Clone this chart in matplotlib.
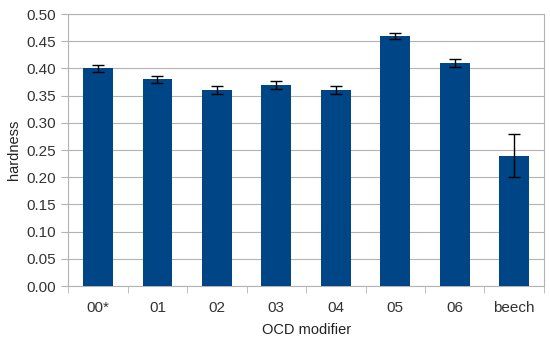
import numpy as np
import matplotlib.pyplot as plt

plt.rcParams['font.family'] = ['Liberation Sans', 'DejaVu Sans']

categories = ['00*', '01', '02', '03', '04', '05', '06', 'beech']
hardness = [0.40, 0.38, 0.36, 0.37, 0.36, 0.46, 0.41, 0.24]
errors = [0.007, 0.007, 0.007, 0.007, 0.007, 0.006, 0.007, 0.04]

fig = plt.figure(figsize=(5.5, 3.43), dpi=100)
ax = fig.add_axes([0.124, 0.166, 0.865, 0.793])

x = np.arange(len(categories))
ax.bar(x, hardness, width=0.5, color='#004586', zorder=3,
       yerr=errors, capsize=4, error_kw=dict(ecolor='black', elinewidth=1, capthick=1))

ax.set_xlim(-0.5, len(categories) - 0.5)
ax.set_ylim(0, 0.5)
ax.set_yticks(np.arange(0, 0.501, 0.05))
ax.set_yticklabels(['%.2f' % v for v in np.arange(0, 0.501, 0.05)])
ax.set_xticks(x)
ax.set_xticklabels(categories)
ax.set_xticks(np.arange(-0.5, len(categories)), minor=True)
ax.tick_params(axis='x', which='major', length=0, pad=11)
ax.tick_params(axis='x', which='minor', length=5, color='#b3b3b3')
ax.tick_params(axis='y', length=5, color='#b3b3b3', pad=4)
ax.tick_params(labelsize=11, labelcolor='#333333')

ax.grid(axis='y', color='#b3b3b3', linewidth=0.8, zorder=0)
for s in ax.spines.values():
    s.set_color('#b3b3b3')

ax.set_ylabel('hardness', fontsize=10.5, color='#222222')
ax.set_xlabel('OCD modifier', fontsize=10.5, color='#222222')
ax.yaxis.set_label_coords(-0.10, 0.5)
ax.xaxis.set_label_coords(0.5, -0.135)

fig.savefig('out.png', dpi=100)
